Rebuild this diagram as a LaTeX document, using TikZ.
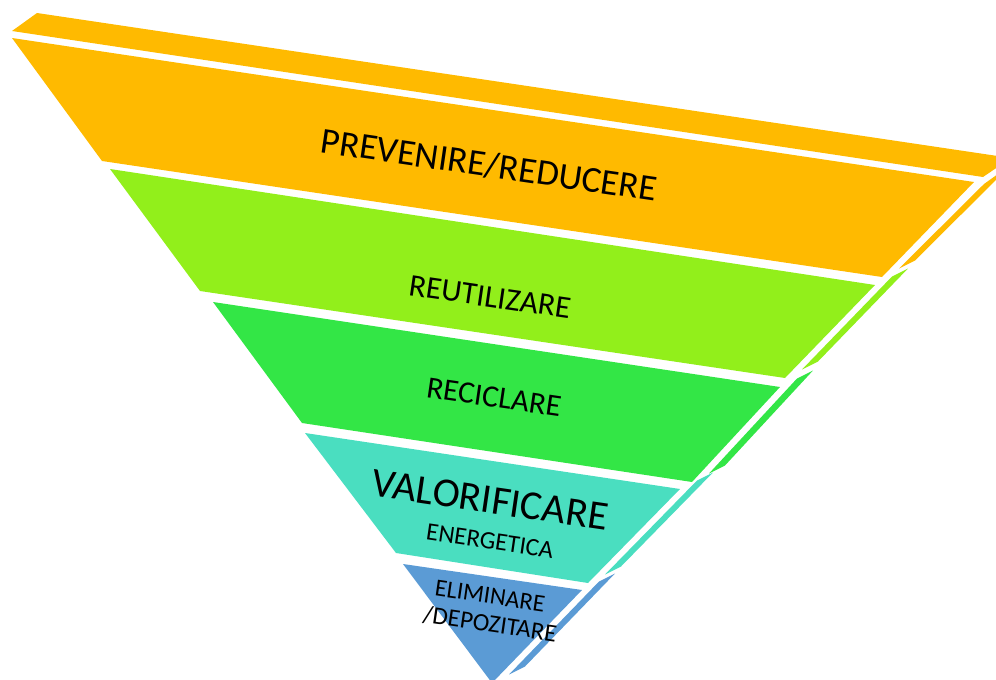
\documentclass[tikz,border=0pt]{standalone}
\usepackage{fontspec}
\setmainfont{Carlito}
\definecolor{cOrange}{HTML}{FFBA00}
\definecolor{cLime}{HTML}{92EF1B}
\definecolor{cGreen}{HTML}{33E646}
\definecolor{cTeal}{HTML}{4ADEC0}
\definecolor{cBlue}{HTML}{5B9BD5}
\begin{document}
\begin{tikzpicture}[x=1pt,y=-1pt,
  lbl/.style={text=black, inner sep=0pt, rotate=-8.3},
  fs/.style={font=\fontsize{#1}{#1}\selectfont}]
\useasboundingbox (0,0) rectangle (996,680);
\clip (0,0) rectangle (996,680);
% top face
\fill[cOrange] (12,31) -- (37,13) -- (1011,158) -- (983,177) -- cycle;
% front face bands
\fill[cOrange] (12,38) -- (974,182) -- (882,277) -- (102,161) -- cycle;
\fill[cLime]   (110,169) -- (875,285) -- (785,378) -- (200,291) -- cycle;
\fill[cGreen]  (213,302) -- (780,387) -- (692,482) -- (302,423) -- cycle;
\fill[cTeal]   (305,433) -- (680,489) -- (588,583) -- (396,553) -- cycle;
\fill[cBlue]   (403,564) -- (582,590) -- (492,683) -- cycle;
% side face bands
\fill[cOrange] (984,184) -- (1012,164) -- (915,260.5) -- (899,268.5) -- cycle;
\fill[cLime]   (892,276.5) -- (908,268.5) -- (818,361.5) -- (802,369.5) -- cycle;
\fill[cGreen]  (797,378.5) -- (813,370.5) -- (725,465.5) -- (709,473.5) -- cycle;
\fill[cTeal]   (697,480.5) -- (713,472.5) -- (621,566.5) -- (605,574.5) -- cycle;
\fill[cBlue]   (599,581.5) -- (615,573.5) -- (525,666.5) -- (509,674.5) -- cycle;
% labels
\node[lbl, fs=36.6] (t1) at (489,165) {PREVENIRE/REDUCERE};
\node[lbl, fs=31.6] (t2) at (490,297) {REUTILIZARE};
\node[lbl, fs=31]   (t3) at (494,397) {RECICLARE};
\node[lbl, fs=41]   (t4) at (490,500) {VALORIFICARE};
\node[lbl, fs=25]   (t5) at (490,541) {ENERGETICA};
\node[lbl, fs=24.5] (t6) at (490,596) {ELIMINARE};
\node[lbl, fs=25]   (t7) at (490,624) {/DEPOZITARE};
\end{tikzpicture}
\end{document}
